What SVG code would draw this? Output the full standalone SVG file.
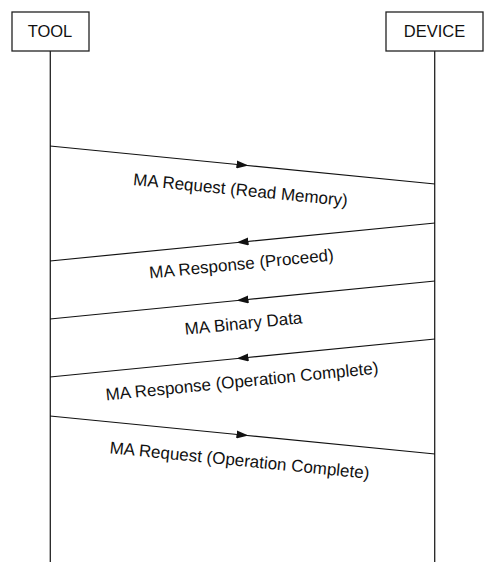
<svg xmlns="http://www.w3.org/2000/svg" width="486" height="562" viewBox="0 0 486 562">
<style>
.box{fill:#fff;stroke:#222;stroke-width:1.3}
.life{stroke:#222;stroke-width:1.3;fill:none}
.msg{stroke:#111;stroke-width:1.2;fill:none;marker-mid:url(#ah)}
.hdr{font-family:"Liberation Sans",Arial,sans-serif;font-size:16.5px;fill:#111;text-anchor:middle}
.lbl{font-family:"Liberation Sans",Arial,sans-serif;font-size:17px;fill:#111;text-anchor:middle}
</style>
<defs>
<marker id="ah" markerUnits="userSpaceOnUse" markerWidth="12" markerHeight="8" refX="6" refY="4" orient="auto">
<path d="M0,0 L12,4 L0,8 z" fill="#111"/>
</marker>
</defs>
<rect width="486" height="562" fill="#fff"/>
<g id="tool">
<rect class="box" x="12" y="12" width="77" height="39"/>
<text class="hdr" x="50" y="37">TOOL</text>
<line class="life" x1="50.3" y1="51" x2="50.3" y2="562"/>
</g>
<g id="device">
<rect class="box" x="386" y="12" width="97" height="39"/>
<text class="hdr" x="434.5" y="37">DEVICE</text>
<line class="life" x1="434.7" y1="51" x2="434.7" y2="562"/>
</g>
<g id="connectors">
<polyline class="msg" points="50,146 242.5,165 435,184"/>
<polyline class="msg" points="435,223 242.5,242 50,261"/>
<polyline class="msg" points="435,281 242.5,300 50,319"/>
<polyline class="msg" points="435,339 242.5,358 50,377"/>
<polyline class="msg" points="50,416 242.5,435 435,454"/>
</g>
<g id="labels">
<text class="lbl" transform="translate(240,195.5) rotate(5.64)">MA Request (Read Memory)</text>
<text class="lbl" transform="translate(242,269.5) rotate(-5.64)">MA Response (Proceed)</text>
<text class="lbl" transform="translate(244,329) rotate(-5.64)">MA Binary Data</text>
<text class="lbl" transform="translate(242.5,387) rotate(-5.64)">MA Response (Operation Complete)</text>
<text class="lbl" transform="translate(239,466) rotate(5.64)">MA Request (Operation Complete)</text>
</g>
</svg>
